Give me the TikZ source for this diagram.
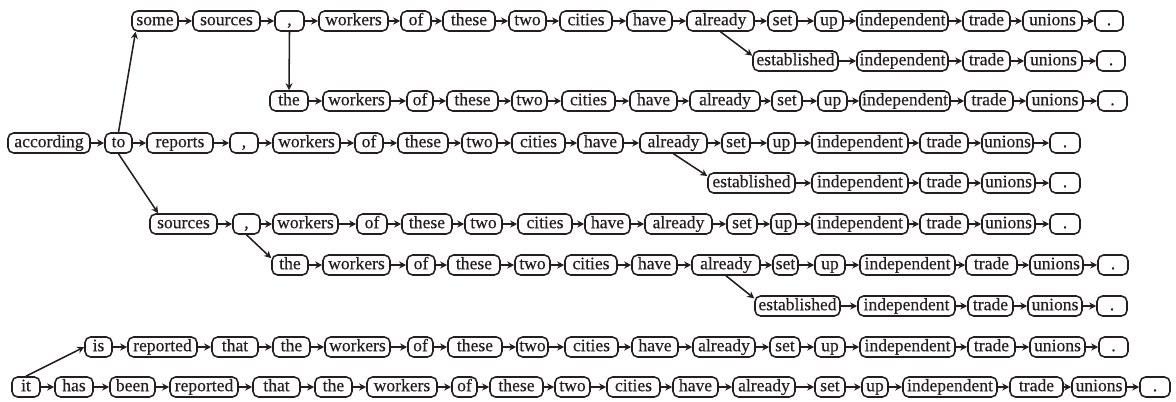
\documentclass[tikz,border=0pt]{standalone}
\usepackage{fontspec}
\setmainfont{Liberation Serif}
\newfontfamily\wordfont[FakeBold=0.4]{Liberation Serif}
\usepackage{tikz}
\usetikzlibrary{arrows.meta}
\definecolor{ink}{HTML}{231F20}
\tikzset{word/.style={draw=ink,text=ink,line width=1.1pt,rounded corners=4pt,
   minimum height=0.5cm,inner xsep=1pt,inner ysep=0pt,
   text height=8.5pt,text depth=2.5pt,font=\wordfont\fontsize{12.5}{14}\selectfont},
 arr/.style={draw=ink,line width=1.1pt,-{Stealth[length=5pt,width=5pt]}},
 }

\begin{document}
\begin{tikzpicture}[x=0.025cm,y=-0.025cm]
        \useasboundingbox (0,0) rectangle (1176,401);
        % some sources , workers ...
        \foreach \l/\r/\w [count=\i] in {132/178/some,193/260/sources,275/304/{,},319/388/workers,
            401/431/of,443/495/these,509/546/two,560/612/cities,627/672/have,687/754/already,
            768/797/set,815/843/up,857/948/independent,963/1010/trade,1023/1082/unions,1095/1123/.}
            \node[word,minimum width=(\r-\l)*0.025cm] (A\i) at ({(\l+\r)/2},21) {\w};
        \foreach \i [remember=\i as \j (initially 1)] in {2,...,16}
            \draw[arr] (A\j) -- (A\i);
        \foreach \l/\r/\w [count=\i] in {753/838/established,857/948/independent,963/1010/trade,
            1025/1082/unions,1097/1125/.}
            \node[word,minimum width=(\r-\l)*0.025cm] (Ab\i) at ({(\l+\r)/2},61) {\w};
        \foreach \i [remember=\i as \j (initially 1)] in {2,...,5}
            \draw[arr] (Ab\j) -- (Ab\i);
        % the workers ...
        \foreach \l/\r/\w [count=\i] in {270/308/the,323/390/workers,407/433/of,447/498/these,
            512/547/two,562/615/cities,630/677/have,690/760/already,772/802/set,818/847/up,
            860/950/independent,965/1013/trade,1027/1083/unions,1098/1127/.}
            \node[word,minimum width=(\r-\l)*0.025cm] (B\i) at ({(\l+\r)/2},101) {\w};
        \foreach \i [remember=\i as \j (initially 1)] in {2,...,14}
            \draw[arr] (B\j) -- (B\i);
        % according to reports , ...
        \foreach \l/\r/\w [count=\i] in {8/90/according,105/132/to,147/213/reports,230/258/{,},
            273/340/workers,355/383/of,398/448/these,462/497/two,512/565/cities,578/623/have,
            640/707/already,722/750/set,768/795/up,812/908/independent,920/968/trade,
            982/1033/unions,1050/1080/.}
            \node[word,minimum width=(\r-\l)*0.025cm] (C\i) at ({(\l+\r)/2},143) {\w};
        \foreach \i [remember=\i as \j (initially 1)] in {2,...,17}
            \draw[arr] (C\j) -- (C\i);
        \foreach \l/\r/\w [count=\i] in {708/795/established,812/908/independent,920/968/trade,
            982/1035/unions,1050/1080/.}
            \node[word,minimum width=(\r-\l)*0.025cm] (Cb\i) at ({(\l+\r)/2},183) {\w};
        \foreach \i [remember=\i as \j (initially 1)] in {2,...,5}
            \draw[arr] (Cb\j) -- (Cb\i);
        % sources , ...
        \foreach \l/\r/\w [count=\i] in {150/217/sources,233/260/{,},273/338/workers,357/387/of,
            402/452/these,465/502/two,518/572/cities,585/630/have,645/712/already,727/757/set,
            771/796/up,812/908/independent,920/968/trade,982/1035/unions,1050/1080/.}
            \node[word,minimum width=(\r-\l)*0.025cm] (D\i) at ({(\l+\r)/2},224) {\w};
        \foreach \i [remember=\i as \j (initially 1)] in {2,...,15}
            \draw[arr] (D\j) -- (D\i);
        \foreach \l/\r/\w [count=\i] in {272/308/the,323/390/workers,407/435/of,448/500/these,
            515/550/two,565/617/cities,632/677/have,692/760/already,773/798/set,815/845/up,
            860/955/independent,966/1017/trade,1030/1083/unions,1098/1128/.}
            \node[word,minimum width=(\r-\l)*0.025cm] (E\i) at ({(\l+\r)/2},265) {\w};
        \foreach \i [remember=\i as \j (initially 1)] in {2,...,14}
            \draw[arr] (E\j) -- (E\i);
        \foreach \l/\r/\w [count=\i] in {755/840/established,858/955/independent,968/1013/trade,
            1028/1082/unions,1097/1127/.}
            \node[word,minimum width=(\r-\l)*0.025cm] (Eb\i) at ({(\l+\r)/2},306) {\w};
        \foreach \i [remember=\i as \j (initially 1)] in {2,...,5}
            \draw[arr] (Eb\j) -- (Eb\i);
        % it is / has been reported ...
        \foreach \l/\r/\w [count=\i] in {85/112/is,128/197/reported,212/258/that,273/310/the,
            325/390/workers,408/433/of,448/502/these,517/548/two,565/618/cities,632/678/have,
            693/755/already,770/800/set,815/845/up,860/955/independent,968/1015/trade,
            1030/1085/unions,1099/1128/.}
            \node[word,minimum width=(\r-\l)*0.025cm] (F\i) at ({(\l+\r)/2},347) {\w};
        \foreach \i [remember=\i as \j (initially 1)] in {2,...,17}
            \draw[arr] (F\j) -- (F\i);
        \foreach \l/\r/\w [count=\i] in {12/40/it,55/93/has,110/155/been,170/238/reported,
            253/300/that,315/352/the,367/437/workers,452/477/of,490/543/these,555/590/two,
            607/660/cities,673/718/have,733/795/already,815/845/set,862/888/up,
            903/997/independent,1010/1063/trade,1072/1126/unions,1140/1170/.}
            \node[word,minimum width=(\r-\l)*0.025cm] (G\i) at ({(\l+\r)/2},387) {\w};
        \foreach \i [remember=\i as \j (initially 1)] in {2,...,19}
            \draw[arr] (G\j) -- (G\i);
        % branches
        \draw[arr] (C2.north) -- (A1.209);
        \draw[arr] (C2.south) -- (D1.157);
        \draw[arr] (A3.south) -- (B1.north);
        \draw[arr] (A10.south) -- (Ab1.173);
        \draw[arr] (C11.south) -- (Cb1.171);
        \draw[arr] (D2.south) -- (E1.160);
        \draw[arr] (E8.south) -- (Eb1.170);
        \draw[arr] (G1.north) -- (F1.west);
    \end{tikzpicture}
\end{document}
